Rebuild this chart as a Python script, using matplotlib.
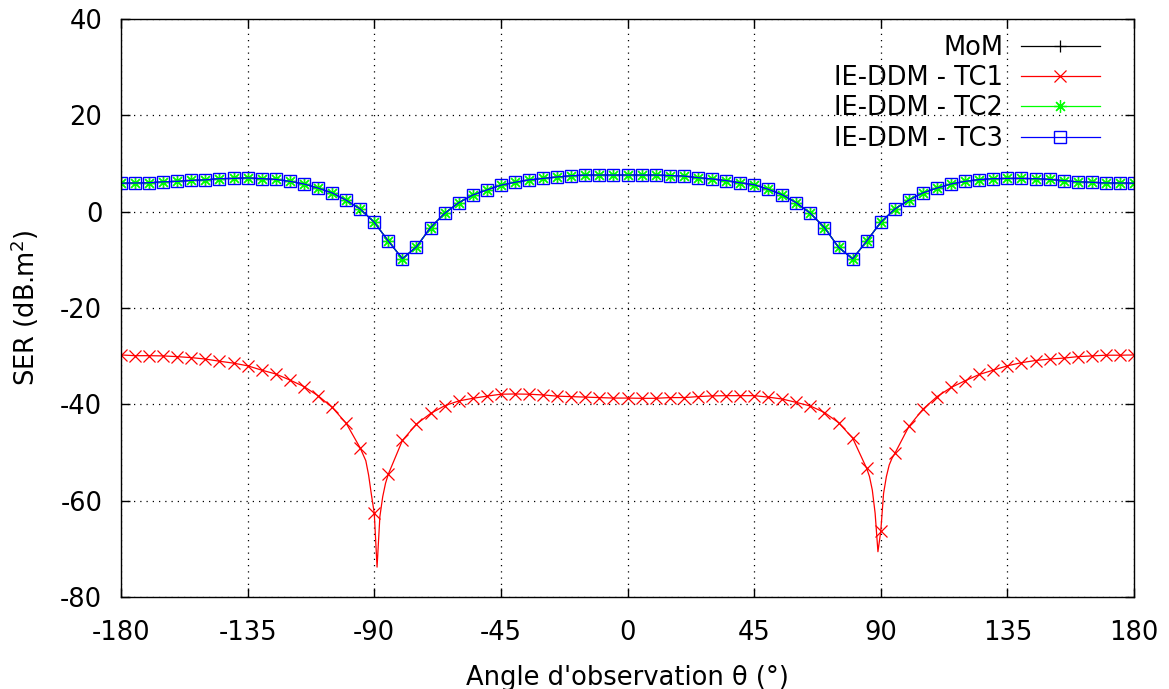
import numpy as np
import matplotlib
matplotlib.use("Agg")
import matplotlib.pyplot as plt

# angles (deg), one marker every 5 degrees
angles = list(range(-180, 185, 5))

# MoM / TC2 / TC3 curves (they overlap in the picture)
ser_mom = [5.9, 5.95, 6.0, 6.2, 6.3, 6.5, 6.6, 6.85, 6.9, 7.0,
           6.85, 6.7, 6.3, 5.75, 4.9, 3.9, 2.4, 0.55, -2.2, -6.1,
           -9.75, -7.3, -3.3, -0.35, 1.85, 3.45, 4.5, 5.5, 6.1, 6.6,
           6.9, 7.2, 7.45, 7.6, 7.6, 7.6, 7.6, 7.6, 7.6, 7.5,
           7.4, 7.05, 6.8, 6.45, 6.0, 5.6, 4.65, 3.5, 1.85, -0.35,
           -3.3, -7.4, -9.8, -6.1, -2.2, 0.55, 2.4, 3.9, 4.9, 5.75,
           6.3, 6.65, 6.85, 6.9, 6.9, 6.85, 6.7, 6.45, 6.2, 6.1,
           5.95, 5.95, 5.9]
ser_tc2 = list(ser_mom)
ser_tc3 = list(ser_mom)

# IE-DDM TC1 at the marker angles
ser_tc1 = [-29.75, -29.9, -29.9, -29.95, -30.1, -30.3, -30.6, -31.05, -31.45, -32.0,
           -32.9, -33.7, -34.95, -36.3, -38.2, -40.6, -43.9, -49.05, -62.6, -54.5,
           -47.5, -44.1, -41.9, -40.3, -39.3, -38.75, -38.3, -37.9, -37.85, -37.9,
           -38.05, -38.3, -38.4, -38.5, -38.6, -38.7, -38.7, -38.75, -38.75, -38.6,
           -38.6, -38.4, -38.25, -38.2, -38.2, -38.2, -38.5, -38.9, -39.6, -40.35,
           -41.7, -43.8, -47.0, -53.3, -66.4, -50.2, -44.6, -41.0, -38.4, -36.5,
           -35.1, -33.8, -32.9, -32.0, -31.35, -30.9, -30.6, -30.4, -30.1, -29.95,
           -29.8, -29.8, -29.75]
# extra TC1 line samples around the two nulls
tc1_extra_ang = [-93, -92, -91, -89, -88, -87, -86, 86, 87, 88, 89, 91, 92, 93, 94]
tc1_extra_val = [-51.7, -54.7, -58.8, -73.8, -63.3, -59.2, -56.4,
                 -55.0, -57.8, -62.6, -70.6, -58.5, -55.0, -52.6, -51.2]

x_ticks = [-180, -135, -90, -45, 0, 45, 90, 135, 180]
y_ticks = [-80, -60, -40, -20, 0, 20, 40]

# merge TC1 samples, keep markers on the 5 degree points
tc1 = sorted(list(zip(angles, ser_tc1)) + list(zip(tc1_extra_ang, tc1_extra_val)))
tc1_ang = [a for a, v in tc1]
tc1_val = [v for a, v in tc1]
tc1_marks = [i for i, a in enumerate(tc1_ang) if a % 5 == 0]

plt.rcParams['font.family'] = 'DejaVu Sans'
plt.rcParams['axes.unicode_minus'] = False
fs = 18.5

fig = plt.figure(figsize=(11.69, 6.89), dpi=100)
ax = fig.add_axes([121 / 1169, 1 - 597 / 689, 1013 / 1169, 578 / 689])

ax.plot(angles, ser_mom, color='black', lw=0.9, marker='+', ms=9, mew=0.9, label='MoM')
ax.plot(tc1_ang, tc1_val, color='#ff0000', lw=0.9, marker='x', ms=8, mew=0.9,
        markevery=tc1_marks, label='IE-DDM - TC1')
ax.plot(angles, ser_tc2, color='#00ff00', lw=0.9, marker=(8, 2, 0), ms=9, mew=0.9,
        label='IE-DDM - TC2')
ax.plot(angles, ser_tc3, color='#0000ff', lw=0.9, marker='s', ms=8, mew=1.0,
        mfc='none', label='IE-DDM - TC3')

ax.set_xlim(-180, 180)
ax.set_ylim(-80, 40)
ax.set_xticks(x_ticks)
ax.set_yticks(y_ticks)
ax.grid(True, color='black', linestyle=(0, (1, 4)), linewidth=0.9)
ax.tick_params(direction='in', top=True, right=True, length=6.5, width=1,
               labelsize=fs, colors='black')
ax.tick_params(axis='y', pad=13.5)
ax.tick_params(axis='x', pad=16.5)
for s in ax.spines.values():
    s.set_linewidth(1.0)

ax.set_xlabel("Angle d'observation θ (°)", fontsize=fs)
ax.set_ylabel(r'SER (dB.m$^2$)', fontsize=fs)
ax.xaxis.set_label_coords(0.5, -0.117)
ax.yaxis.set_label_coords(-0.079, 0.5)

ax.legend(loc='upper right', bbox_to_anchor=(0.9664, 0.973), frameon=False,
          markerfirst=False, fontsize=fs, handlelength=3.08, handletextpad=0.69,
          labelspacing=0.17, borderpad=0, borderaxespad=0)

fig.savefig('out.png', dpi=100)
